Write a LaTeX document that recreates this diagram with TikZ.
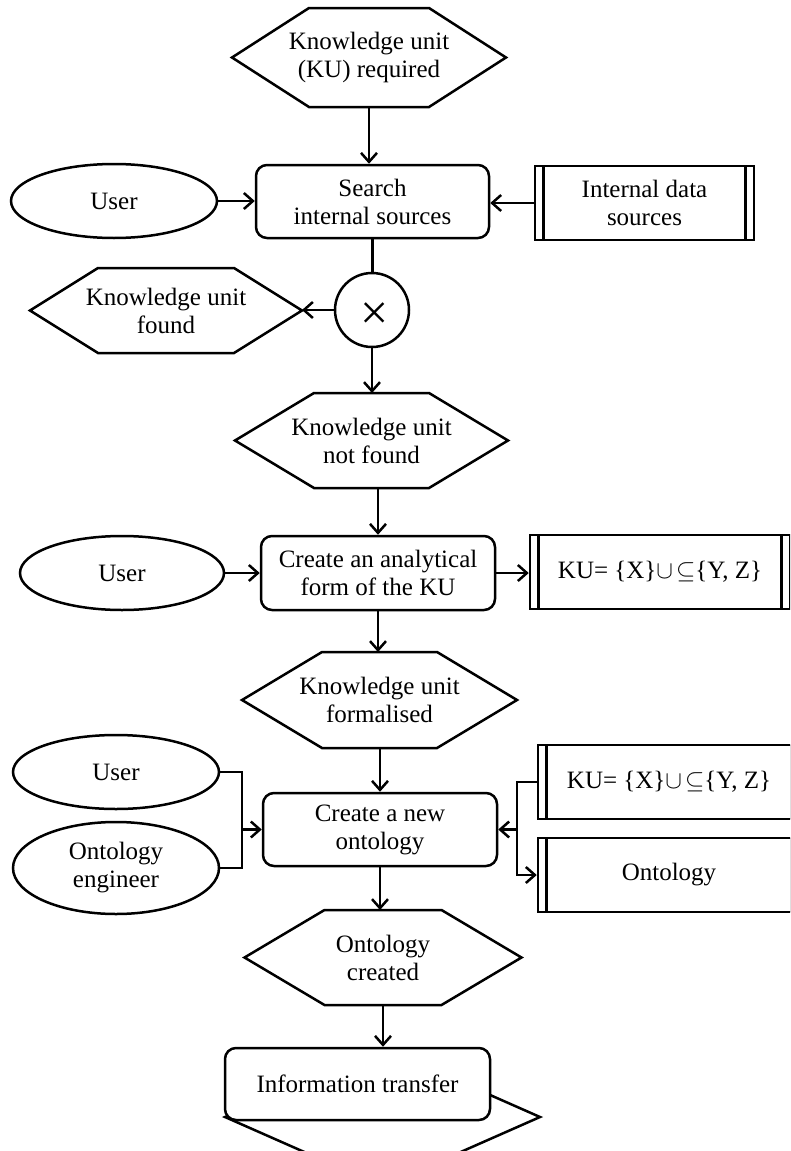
\documentclass[tikz,border=0pt]{standalone}
\usepackage{fontspec}
\setmainfont{Liberation Serif}
\usetikzlibrary{arrows.meta,shapes.geometric,calc}
\tikzset{
  base/.style={line width=2.5pt, font=\fontsize{25}{28}\selectfont, align=center, inner sep=0pt},
  procbox/.style={base, draw, rounded corners=11pt, fill=white},
  actor/.style={base, draw, ellipse},
  hexnode/.style={base, draw=none, outer sep=0pt},
  databox/.style={base, draw, path picture={
      \draw[line width=2.5pt]
        ([xshift=8.5pt]path picture bounding box.north west) -- ([xshift=8.5pt]path picture bounding box.south west)
        ([xshift=-8.5pt]path picture bounding box.north east) -- ([xshift=-8.5pt]path picture bounding box.south east);}},
  gate/.style={base, draw, circle},
  conn/.style={line width=2.5pt, line join=miter},
  arr/.style={conn, -{Straight Barb[length=9pt,width=16pt]}},
}
\newcommand\hexdraw[2]{\draw[conn] (#1.west) -- ([xshift=#2pt]#1.north west) -- ([xshift=-#2pt]#1.north east) -- (#1.east) -- ([xshift=-#2pt]#1.south east) -- ([xshift=#2pt]#1.south west) -- cycle;}
\newcommand\kuformula{KU= \{X\}$\cup$\kern3pt$\subseteq$\{Y, Z\}}
\begin{document}
\begin{tikzpicture}[x=1pt,y=-1pt]
\useasboundingbox (0,0) rectangle (790,1151);
\fill[white] (0,0) rectangle (790,1151);
\clip (0,0) rectangle (790,1151);

% nodes
\node[hexnode, minimum width=274pt, minimum height=99pt] (req) at (369,57.5) {Knowledge unit\\(KU) required};
\hexdraw{req}{77}
\node[procbox, minimum width=233pt, minimum height=73pt] (search) at (372.5,201.5) {Search\\internal sources};
\node[actor, minimum width=206pt, minimum height=74pt] (user1) at (114,201) {User};
\node[databox, minimum width=219pt, minimum height=74pt] (internal) at (644.5,203) {Internal data\\sources};
\node[gate, minimum size=74pt] (gate) at (372,310) {};
\node[base, font=\fontsize{50}{50}\selectfont] (xmark) at (375,316) {×};
\node[hexnode, minimum width=272pt, minimum height=85pt] (found) at (166,310.5) {Knowledge unit\\found};
\hexdraw{found}{68}
\node[hexnode, minimum width=273pt, minimum height=95pt] (notfound) at (371.5,440.5) {Knowledge unit\\not found};
\hexdraw{notfound}{79}
\node[procbox, minimum width=234pt, minimum height=74pt] (analytic) at (378,573) {Create an analytical\\form of the KU};
\node[actor, minimum width=204pt, minimum height=74pt] (user2) at (122,573) {User};
\node[databox, minimum width=260pt, minimum height=74pt] (ku1) at (660,572) {\kuformula};
\node[hexnode, minimum width=275pt, minimum height=96pt] (formal) at (379.5,700) {Knowledge unit\\formalised};
\hexdraw{formal}{80}
\node[procbox, minimum width=234pt, minimum height=73pt] (newonto) at (380,829.5) {Create a new\\ontology};
\node[actor, minimum width=206pt, minimum height=74pt] (user3) at (116,772) {User};
\node[actor, minimum width=206pt, minimum height=92pt] (eng) at (116,868) {Ontology\\engineer};
\node[databox, minimum width=262pt, minimum height=74pt] (ku2) at (669,782) {\kuformula};
\node[databox, minimum width=262pt, minimum height=74pt] (onto) at (669,875) {Ontology};
\node[hexnode, minimum width=277pt, minimum height=95pt] (created) at (383,957.5) {Ontology\\created};
\hexdraw{created}{80}
\node[hexnode, minimum width=315pt, minimum height=90pt] (outhex) at (382.5,1117) {};
\hexdraw{outhex}{102}
\node[procbox, minimum width=265pt, minimum height=72pt] (info) at (357.5,1084) {Information transfer};

% connectors
\draw[arr] (req.south) -- (req.south |- search.north);
\draw[arr] (user1.east) -- (user1.east -| search.west);
\draw[arr] (internal.west) -- (internal.west -| search.east);
\draw[conn] (search.south) -- (search.south |- gate.north);
\draw[arr] (gate.west) -- (gate.west -| found.east);
\draw[arr] (gate.south) -- (gate.south |- notfound.north);
\draw[arr] (analytic.north |- notfound.south) -- (analytic.north);
\draw[arr] (user2.east) -- (user2.east -| analytic.west);
\draw[arr] (analytic.east) -- (analytic.east -| ku1.west);
\draw[arr] (analytic.south) -- (analytic.south |- formal.north);
\draw[arr] (newonto.north |- formal.south) -- (newonto.north);
\coordinate (lj) at (242,829.5);
\draw[conn] (user3.east) -| (lj) |- (eng.east);
\draw[arr] (lj) -- (newonto.west);
\coordinate (rj) at (517,829.5);
\draw[conn] (ku2.west) -| (rj);
\draw[arr] (rj) |- (onto.west);
\draw[arr] (rj) -- (newonto.east);
\draw[arr] (newonto.south) -- (newonto.south |- created.north);
\draw[arr] (created.south) -- (created.south |- info.north);
\end{tikzpicture}
\end{document}
